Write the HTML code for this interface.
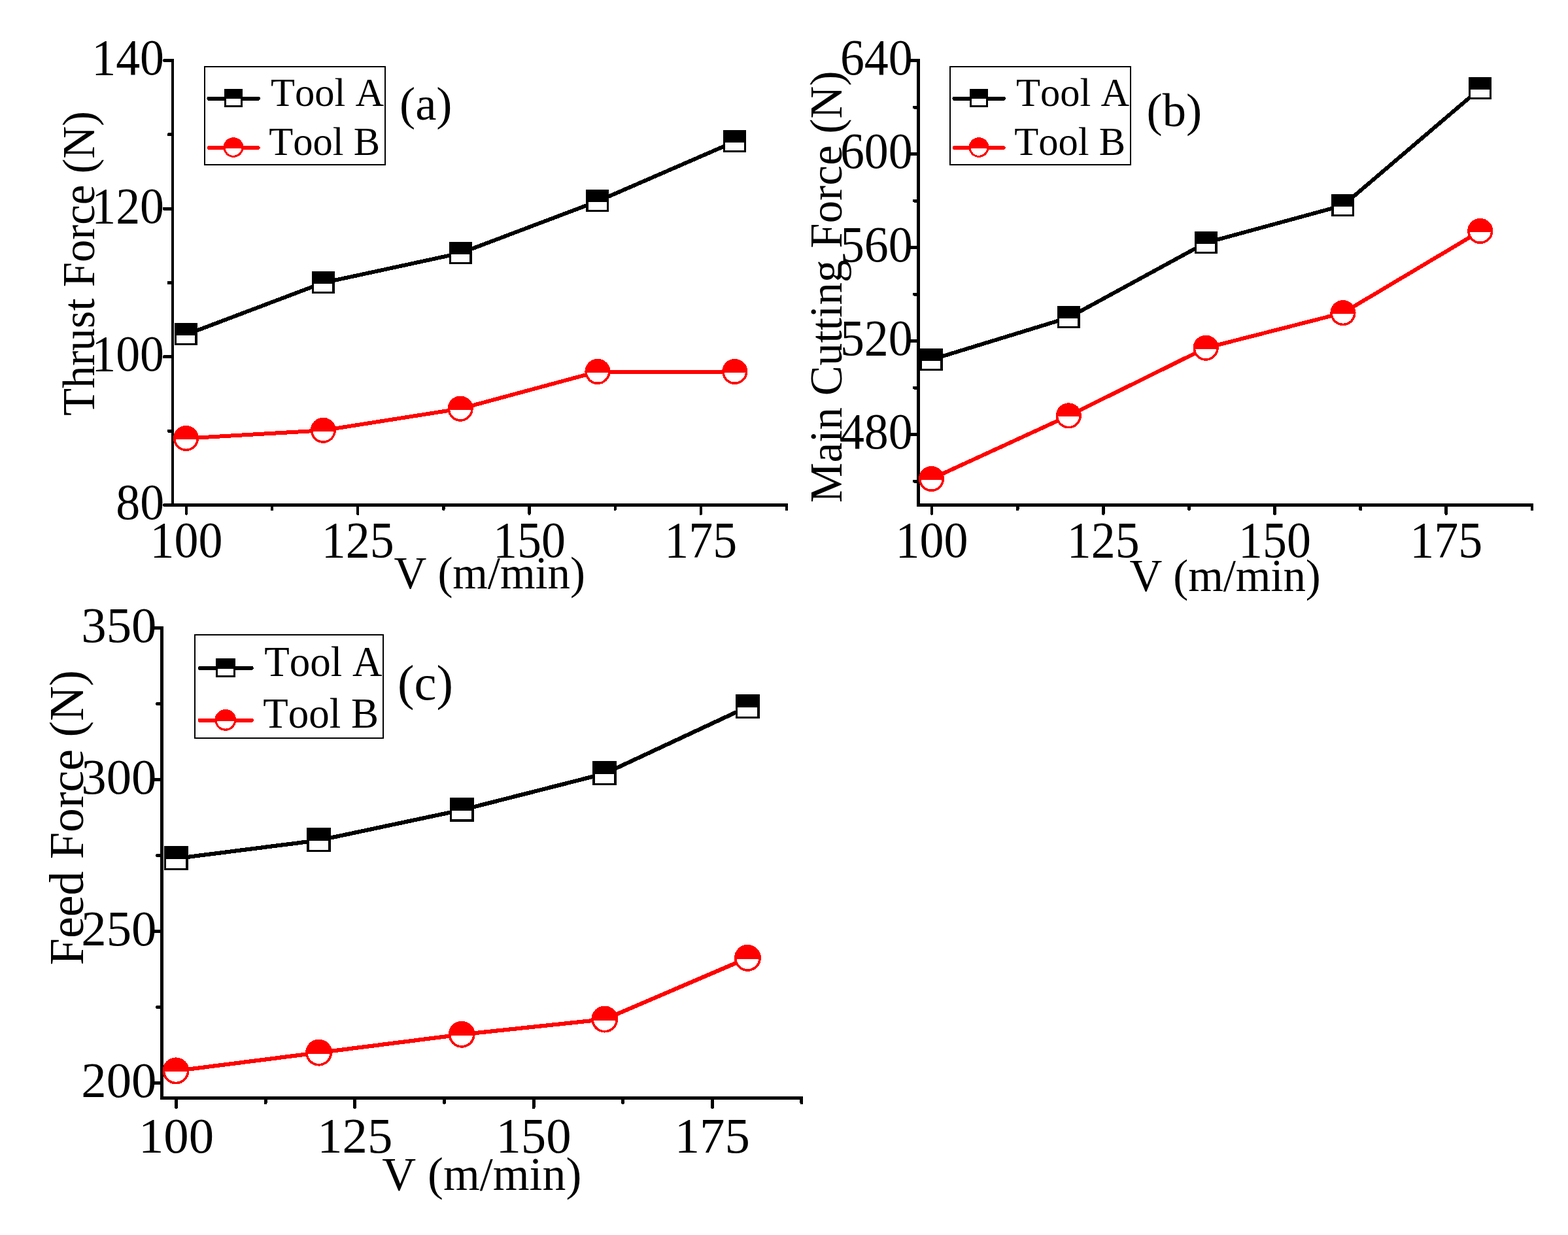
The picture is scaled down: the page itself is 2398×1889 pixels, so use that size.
<!DOCTYPE html>
<html lang="en">
<head>
<meta charset="utf-8">
<title>Cutting forces versus cutting speed</title>
<style>
html,body{margin:0;padding:0;background:#fff;}
body{width:2398px;height:1889px;overflow:hidden;}
svg{display:block;}
svg text{font-family:'Liberation Serif', serif;white-space:pre;font-kerning:none;font-variant-ligatures:none;}
</style>
</head>
<body>
<svg width="2398" height="1889" viewBox="0 0 2398 1889" role="img" aria-label="Cutting force components versus cutting speed for Tool A and Tool B">
<rect x="0" y="0" width="2398" height="1889" fill="#fff"/>
<g shape-rendering="crispEdges">
<polyline points="284.50,511.83 494.32,432.50 704.14,387.17 913.96,307.83 1123.78,216.60" fill="none" stroke="#000" stroke-width="6.00" stroke-linejoin="round"/>
<polyline points="284.50,670.50 494.32,658.26 704.14,625.17 913.96,568.50 1123.78,568.50" fill="none" stroke="#f00" stroke-width="6.00" stroke-linejoin="round"/>
<line x1="264.00" y1="90.00" x2="264.00" y2="775.00" stroke="#000" stroke-width="4.20" stroke-linecap="butt"/>
<line x1="261.90" y1="772.50" x2="1205.06" y2="772.50" stroke="#000" stroke-width="5.00" stroke-linecap="butt"/>
<line x1="251.40" y1="772.50" x2="264.00" y2="772.50" stroke="#000" stroke-width="5.00" stroke-linecap="round"/>
<line x1="251.40" y1="545.83" x2="264.00" y2="545.83" stroke="#000" stroke-width="5.00" stroke-linecap="round"/>
<line x1="251.40" y1="319.17" x2="264.00" y2="319.17" stroke="#000" stroke-width="5.00" stroke-linecap="round"/>
<line x1="251.40" y1="92.50" x2="264.00" y2="92.50" stroke="#000" stroke-width="5.00" stroke-linecap="round"/>
<line x1="258.10" y1="659.17" x2="264.00" y2="659.17" stroke="#000" stroke-width="5.00" stroke-linecap="round"/>
<line x1="258.10" y1="432.50" x2="264.00" y2="432.50" stroke="#000" stroke-width="5.00" stroke-linecap="round"/>
<line x1="258.10" y1="205.84" x2="264.00" y2="205.84" stroke="#000" stroke-width="5.00" stroke-linecap="round"/>
<line x1="285.00" y1="772.50" x2="285.00" y2="785.90" stroke="#000" stroke-width="4.20" stroke-linecap="round"/>
<line x1="547.27" y1="772.50" x2="547.27" y2="785.90" stroke="#000" stroke-width="4.20" stroke-linecap="round"/>
<line x1="809.55" y1="772.50" x2="809.55" y2="785.90" stroke="#000" stroke-width="4.20" stroke-linecap="round"/>
<line x1="1071.82" y1="772.50" x2="1071.82" y2="785.90" stroke="#000" stroke-width="4.20" stroke-linecap="round"/>
<line x1="416.14" y1="772.50" x2="416.14" y2="779.20" stroke="#000" stroke-width="4.20" stroke-linecap="round"/>
<line x1="678.41" y1="772.50" x2="678.41" y2="779.20" stroke="#000" stroke-width="4.20" stroke-linecap="round"/>
<line x1="940.69" y1="772.50" x2="940.69" y2="779.20" stroke="#000" stroke-width="4.20" stroke-linecap="round"/>
<line x1="1202.96" y1="772.50" x2="1202.96" y2="779.20" stroke="#000" stroke-width="4.20" stroke-linecap="round"/>
<rect x="267.00" y="494.33" width="35.00" height="34.00" fill="#000"/>
<rect x="270.20" y="513.33" width="28.10" height="11.90" fill="#fff"/>
<rect x="476.82" y="415.00" width="35.00" height="34.00" fill="#000"/>
<rect x="480.02" y="434.00" width="28.10" height="11.90" fill="#fff"/>
<rect x="686.64" y="369.67" width="35.00" height="34.00" fill="#000"/>
<rect x="689.84" y="388.67" width="28.10" height="11.90" fill="#fff"/>
<rect x="896.46" y="290.33" width="35.00" height="34.00" fill="#000"/>
<rect x="899.66" y="309.33" width="28.10" height="11.90" fill="#fff"/>
<rect x="1106.28" y="199.10" width="35.00" height="34.00" fill="#000"/>
<rect x="1109.48" y="218.10" width="28.10" height="11.90" fill="#fff"/>
<circle cx="284.50" cy="670.50" r="19.60" fill="#f00"/>
<path d="M268.57 672.00 A16.00 16.00 0 0 0 300.43 672.00 Z" fill="#fff"/>
<circle cx="494.32" cy="658.26" r="19.60" fill="#f00"/>
<path d="M478.39 659.76 A16.00 16.00 0 0 0 510.25 659.76 Z" fill="#fff"/>
<circle cx="704.14" cy="625.17" r="19.60" fill="#f00"/>
<path d="M688.21 626.67 A16.00 16.00 0 0 0 720.07 626.67 Z" fill="#fff"/>
<circle cx="913.96" cy="568.50" r="19.60" fill="#f00"/>
<path d="M898.03 570.00 A16.00 16.00 0 0 0 929.89 570.00 Z" fill="#fff"/>
<circle cx="1123.78" cy="568.50" r="19.60" fill="#f00"/>
<path d="M1107.85 570.00 A16.00 16.00 0 0 0 1139.71 570.00 Z" fill="#fff"/>
<text transform="translate(251.10 794.10) scale(0.9580 1)" font-size="77.20" text-anchor="end" fill="#000">80</text>
<text transform="translate(251.10 567.43) scale(0.9580 1)" font-size="77.20" text-anchor="end" fill="#000">100</text>
<text transform="translate(251.10 340.77) scale(0.9580 1)" font-size="77.20" text-anchor="end" fill="#000">120</text>
<text transform="translate(251.10 114.10) scale(0.9580 1)" font-size="77.20" text-anchor="end" fill="#000">140</text>
<text transform="translate(285.00 851.80) scale(0.9580 1)" font-size="77.20" text-anchor="middle" fill="#000">100</text>
<text transform="translate(547.27 851.80) scale(0.9580 1)" font-size="77.20" text-anchor="middle" fill="#000">125</text>
<text transform="translate(809.55 851.80) scale(0.9580 1)" font-size="77.20" text-anchor="middle" fill="#000">150</text>
<text transform="translate(1071.82 851.80) scale(0.9580 1)" font-size="77.20" text-anchor="middle" fill="#000">175</text>
<text transform="translate(602.50 900.30)" font-size="69.00" text-anchor="start" fill="#000" letter-spacing="-0.10">V (m/min)</text>
<text transform="translate(143.60 636.00) rotate(-90)" font-size="69.00" text-anchor="start" fill="#000" letter-spacing="-0.10">Thrust Force (N)</text>
<text transform="translate(611.00 182.50)" font-size="72.50" text-anchor="start" fill="#000">(a)</text>
<rect x="312.70" y="102.10" width="276.20" height="149.50" fill="#fff" stroke="#000" stroke-width="2.00"/>
<line x1="319.30" y1="150.80" x2="394.90" y2="150.80" stroke="#000" stroke-width="5.70" stroke-linecap="round"/>
<line x1="319.30" y1="226.00" x2="394.90" y2="226.00" stroke="#f00" stroke-width="5.70" stroke-linecap="round"/>
<rect x="343.10" y="136.20" width="27.80" height="27.60" fill="#000"/>
<rect x="345.70" y="151.30" width="22.20" height="9.98" fill="#fff"/>
<circle cx="357.00" cy="225.50" r="15.40" fill="#f00"/>
<path d="M344.69 227.00 A12.40 12.40 0 0 0 369.31 227.00 Z" fill="#fff"/>
<text transform="translate(414.00 161.80) scale(0.9770 1)" font-size="62.00" text-anchor="start" fill="#000">Tool A</text>
<text transform="translate(411.30 237.30) scale(0.9770 1)" font-size="62.00" text-anchor="start" fill="#000">Tool B</text>
</g>
<g shape-rendering="crispEdges">
<polyline points="1424.50,550.10 1634.32,485.75 1844.14,371.35 2053.96,314.15 2263.78,135.40" fill="none" stroke="#000" stroke-width="6.00" stroke-linejoin="round"/>
<polyline points="1424.50,732.43 1634.32,635.90 1844.14,532.23 2053.96,478.60 2263.78,353.48" fill="none" stroke="#f00" stroke-width="6.00" stroke-linejoin="round"/>
<line x1="1404.50" y1="90.00" x2="1404.50" y2="775.00" stroke="#000" stroke-width="4.80" stroke-linecap="butt"/>
<line x1="1402.10" y1="772.50" x2="2345.36" y2="772.50" stroke="#000" stroke-width="5.00" stroke-linecap="butt"/>
<line x1="1391.60" y1="664.50" x2="1404.50" y2="664.50" stroke="#000" stroke-width="5.00" stroke-linecap="round"/>
<line x1="1391.60" y1="521.50" x2="1404.50" y2="521.50" stroke="#000" stroke-width="5.00" stroke-linecap="round"/>
<line x1="1391.60" y1="378.50" x2="1404.50" y2="378.50" stroke="#000" stroke-width="5.00" stroke-linecap="round"/>
<line x1="1391.60" y1="235.50" x2="1404.50" y2="235.50" stroke="#000" stroke-width="5.00" stroke-linecap="round"/>
<line x1="1391.60" y1="92.50" x2="1404.50" y2="92.50" stroke="#000" stroke-width="5.00" stroke-linecap="round"/>
<line x1="1398.30" y1="736.00" x2="1404.50" y2="736.00" stroke="#000" stroke-width="5.00" stroke-linecap="round"/>
<line x1="1398.30" y1="593.00" x2="1404.50" y2="593.00" stroke="#000" stroke-width="5.00" stroke-linecap="round"/>
<line x1="1398.30" y1="450.00" x2="1404.50" y2="450.00" stroke="#000" stroke-width="5.00" stroke-linecap="round"/>
<line x1="1398.30" y1="307.00" x2="1404.50" y2="307.00" stroke="#000" stroke-width="5.00" stroke-linecap="round"/>
<line x1="1398.30" y1="164.00" x2="1404.50" y2="164.00" stroke="#000" stroke-width="5.00" stroke-linecap="round"/>
<line x1="1425.00" y1="772.50" x2="1425.00" y2="785.60" stroke="#000" stroke-width="4.80" stroke-linecap="round"/>
<line x1="1687.28" y1="772.50" x2="1687.28" y2="785.60" stroke="#000" stroke-width="4.80" stroke-linecap="round"/>
<line x1="1949.55" y1="772.50" x2="1949.55" y2="785.60" stroke="#000" stroke-width="4.80" stroke-linecap="round"/>
<line x1="2211.82" y1="772.50" x2="2211.82" y2="785.60" stroke="#000" stroke-width="4.80" stroke-linecap="round"/>
<line x1="1556.14" y1="772.50" x2="1556.14" y2="778.90" stroke="#000" stroke-width="4.80" stroke-linecap="round"/>
<line x1="1818.41" y1="772.50" x2="1818.41" y2="778.90" stroke="#000" stroke-width="4.80" stroke-linecap="round"/>
<line x1="2080.69" y1="772.50" x2="2080.69" y2="778.90" stroke="#000" stroke-width="4.80" stroke-linecap="round"/>
<line x1="2342.96" y1="772.50" x2="2342.96" y2="778.90" stroke="#000" stroke-width="4.80" stroke-linecap="round"/>
<rect x="1407.00" y="532.60" width="35.00" height="34.00" fill="#000"/>
<rect x="1410.20" y="551.60" width="28.10" height="11.90" fill="#fff"/>
<rect x="1616.82" y="468.25" width="35.00" height="34.00" fill="#000"/>
<rect x="1620.02" y="487.25" width="28.10" height="11.90" fill="#fff"/>
<rect x="1826.64" y="353.85" width="35.00" height="34.00" fill="#000"/>
<rect x="1829.84" y="372.85" width="28.10" height="11.90" fill="#fff"/>
<rect x="2036.46" y="296.65" width="35.00" height="34.00" fill="#000"/>
<rect x="2039.66" y="315.65" width="28.10" height="11.90" fill="#fff"/>
<rect x="2246.28" y="117.90" width="35.00" height="34.00" fill="#000"/>
<rect x="2249.48" y="136.90" width="28.10" height="11.90" fill="#fff"/>
<circle cx="1424.50" cy="732.43" r="19.60" fill="#f00"/>
<path d="M1408.57 733.93 A16.00 16.00 0 0 0 1440.43 733.93 Z" fill="#fff"/>
<circle cx="1634.32" cy="635.90" r="19.60" fill="#f00"/>
<path d="M1618.39 637.40 A16.00 16.00 0 0 0 1650.25 637.40 Z" fill="#fff"/>
<circle cx="1844.14" cy="532.23" r="19.60" fill="#f00"/>
<path d="M1828.21 533.73 A16.00 16.00 0 0 0 1860.07 533.73 Z" fill="#fff"/>
<circle cx="2053.96" cy="478.60" r="19.60" fill="#f00"/>
<path d="M2038.03 480.10 A16.00 16.00 0 0 0 2069.89 480.10 Z" fill="#fff"/>
<circle cx="2263.78" cy="353.48" r="19.60" fill="#f00"/>
<path d="M2247.85 354.98 A16.00 16.00 0 0 0 2279.71 354.98 Z" fill="#fff"/>
<text transform="translate(1395.80 686.10) scale(0.9580 1)" font-size="77.20" text-anchor="end" fill="#000">480</text>
<text transform="translate(1395.80 543.10) scale(0.9580 1)" font-size="77.20" text-anchor="end" fill="#000">520</text>
<text transform="translate(1395.80 400.10) scale(0.9580 1)" font-size="77.20" text-anchor="end" fill="#000">560</text>
<text transform="translate(1395.80 257.10) scale(0.9580 1)" font-size="77.20" text-anchor="end" fill="#000">600</text>
<text transform="translate(1395.80 114.10) scale(0.9580 1)" font-size="77.20" text-anchor="end" fill="#000">640</text>
<text transform="translate(1425.00 851.80) scale(0.9580 1)" font-size="77.20" text-anchor="middle" fill="#000">100</text>
<text transform="translate(1687.28 851.80) scale(0.9580 1)" font-size="77.20" text-anchor="middle" fill="#000">125</text>
<text transform="translate(1949.55 851.80) scale(0.9580 1)" font-size="77.20" text-anchor="middle" fill="#000">150</text>
<text transform="translate(2211.82 851.80) scale(0.9580 1)" font-size="77.20" text-anchor="middle" fill="#000">175</text>
<text transform="translate(1727.40 903.50)" font-size="69.00" text-anchor="start" fill="#000" letter-spacing="-0.10">V (m/min)</text>
<text transform="translate(1286.80 769.00) rotate(-90)" font-size="69.00" text-anchor="start" fill="#000" letter-spacing="0.15">Main Cutting Force (N)</text>
<text transform="translate(1753.60 193.00)" font-size="72.50" text-anchor="start" fill="#000">(b)</text>
<rect x="1452.70" y="102.10" width="276.20" height="149.50" fill="#fff" stroke="#000" stroke-width="2.00"/>
<line x1="1459.30" y1="150.80" x2="1534.90" y2="150.80" stroke="#000" stroke-width="5.70" stroke-linecap="round"/>
<line x1="1459.30" y1="226.00" x2="1534.90" y2="226.00" stroke="#f00" stroke-width="5.70" stroke-linecap="round"/>
<rect x="1483.10" y="136.20" width="27.80" height="27.60" fill="#000"/>
<rect x="1485.70" y="151.30" width="22.20" height="9.98" fill="#fff"/>
<circle cx="1497.00" cy="225.50" r="15.40" fill="#f00"/>
<path d="M1484.69 227.00 A12.40 12.40 0 0 0 1509.31 227.00 Z" fill="#fff"/>
<text transform="translate(1554.00 161.80) scale(0.9770 1)" font-size="62.00" text-anchor="start" fill="#000">Tool A</text>
<text transform="translate(1551.30 237.30) scale(0.9770 1)" font-size="62.00" text-anchor="start" fill="#000">Tool B</text>
</g>
<g shape-rendering="crispEdges">
<polyline points="269.00,1313.14 487.60,1285.30 706.20,1238.90 924.80,1183.22 1143.40,1081.14" fill="none" stroke="#000" stroke-width="6.20" stroke-linejoin="round"/>
<polyline points="269.00,1637.94 487.60,1610.10 706.20,1582.26 924.80,1559.06 1143.40,1465.33" fill="none" stroke="#f00" stroke-width="6.20" stroke-linejoin="round"/>
<line x1="247.50" y1="958.00" x2="247.50" y2="1682.00" stroke="#000" stroke-width="5.00" stroke-linecap="butt"/>
<line x1="245.00" y1="1679.50" x2="1228.38" y2="1679.50" stroke="#000" stroke-width="5.00" stroke-linecap="butt"/>
<line x1="233.50" y1="1656.50" x2="247.50" y2="1656.50" stroke="#000" stroke-width="5.00" stroke-linecap="round"/>
<line x1="233.50" y1="1424.50" x2="247.50" y2="1424.50" stroke="#000" stroke-width="5.00" stroke-linecap="round"/>
<line x1="233.50" y1="1192.50" x2="247.50" y2="1192.50" stroke="#000" stroke-width="5.00" stroke-linecap="round"/>
<line x1="233.50" y1="960.50" x2="247.50" y2="960.50" stroke="#000" stroke-width="5.00" stroke-linecap="round"/>
<line x1="240.50" y1="1540.50" x2="247.50" y2="1540.50" stroke="#000" stroke-width="5.00" stroke-linecap="round"/>
<line x1="240.50" y1="1308.50" x2="247.50" y2="1308.50" stroke="#000" stroke-width="5.00" stroke-linecap="round"/>
<line x1="240.50" y1="1076.50" x2="247.50" y2="1076.50" stroke="#000" stroke-width="5.00" stroke-linecap="round"/>
<line x1="269.50" y1="1679.50" x2="269.50" y2="1693.50" stroke="#000" stroke-width="5.00" stroke-linecap="round"/>
<line x1="542.75" y1="1679.50" x2="542.75" y2="1693.50" stroke="#000" stroke-width="5.00" stroke-linecap="round"/>
<line x1="816.00" y1="1679.50" x2="816.00" y2="1693.50" stroke="#000" stroke-width="5.00" stroke-linecap="round"/>
<line x1="1089.25" y1="1679.50" x2="1089.25" y2="1693.50" stroke="#000" stroke-width="5.00" stroke-linecap="round"/>
<line x1="406.12" y1="1679.50" x2="406.12" y2="1686.50" stroke="#000" stroke-width="5.00" stroke-linecap="round"/>
<line x1="679.38" y1="1679.50" x2="679.38" y2="1686.50" stroke="#000" stroke-width="5.00" stroke-linecap="round"/>
<line x1="952.62" y1="1679.50" x2="952.62" y2="1686.50" stroke="#000" stroke-width="5.00" stroke-linecap="round"/>
<line x1="1225.88" y1="1679.50" x2="1225.88" y2="1686.50" stroke="#000" stroke-width="5.00" stroke-linecap="round"/>
<rect x="250.50" y="1294.14" width="37.00" height="36.70" fill="#000"/>
<rect x="253.90" y="1314.14" width="29.70" height="13.40" fill="#fff"/>
<rect x="469.10" y="1266.30" width="37.00" height="36.70" fill="#000"/>
<rect x="472.50" y="1286.30" width="29.70" height="13.40" fill="#fff"/>
<rect x="687.70" y="1219.90" width="37.00" height="36.70" fill="#000"/>
<rect x="691.10" y="1239.90" width="29.70" height="13.40" fill="#fff"/>
<rect x="906.30" y="1164.22" width="37.00" height="36.70" fill="#000"/>
<rect x="909.70" y="1184.22" width="29.70" height="13.40" fill="#fff"/>
<rect x="1124.90" y="1062.14" width="37.00" height="36.70" fill="#000"/>
<rect x="1128.30" y="1082.14" width="29.70" height="13.40" fill="#fff"/>
<circle cx="269.00" cy="1637.94" r="20.50" fill="#f00"/>
<path d="M252.27 1639.44 A16.80 16.80 0 0 0 285.73 1639.44 Z" fill="#fff"/>
<circle cx="487.60" cy="1610.10" r="20.50" fill="#f00"/>
<path d="M470.87 1611.60 A16.80 16.80 0 0 0 504.33 1611.60 Z" fill="#fff"/>
<circle cx="706.20" cy="1582.26" r="20.50" fill="#f00"/>
<path d="M689.47 1583.76 A16.80 16.80 0 0 0 722.93 1583.76 Z" fill="#fff"/>
<circle cx="924.80" cy="1559.06" r="20.50" fill="#f00"/>
<path d="M908.07 1560.56 A16.80 16.80 0 0 0 941.53 1560.56 Z" fill="#fff"/>
<circle cx="1143.40" cy="1465.33" r="20.50" fill="#f00"/>
<path d="M1126.67 1466.83 A16.80 16.80 0 0 0 1160.13 1466.83 Z" fill="#fff"/>
<text transform="translate(239.50 1678.00)" font-size="76.80" text-anchor="end" fill="#000">200</text>
<text transform="translate(239.50 1446.00)" font-size="76.80" text-anchor="end" fill="#000">250</text>
<text transform="translate(239.50 1214.00)" font-size="76.80" text-anchor="end" fill="#000">300</text>
<text transform="translate(239.50 982.00)" font-size="76.80" text-anchor="end" fill="#000">350</text>
<text transform="translate(269.50 1762.60)" font-size="76.80" text-anchor="middle" fill="#000">100</text>
<text transform="translate(542.75 1762.60)" font-size="76.80" text-anchor="middle" fill="#000">125</text>
<text transform="translate(816.00 1762.60)" font-size="76.80" text-anchor="middle" fill="#000">150</text>
<text transform="translate(1089.25 1762.60)" font-size="76.80" text-anchor="middle" fill="#000">175</text>
<text transform="translate(584.20 1820.00)" font-size="71.80" text-anchor="start" fill="#000">V (m/min)</text>
<text transform="translate(127.00 1476.20) rotate(-90)" font-size="73.90" text-anchor="start" fill="#000">Feed Force (N)</text>
<text transform="translate(608.00 1069.60)" font-size="76.50" text-anchor="start" fill="#000">(c)</text>
<rect x="298.30" y="971.20" width="287.50" height="157.60" fill="#fff" stroke="#000" stroke-width="2.00"/>
<line x1="305.40" y1="1021.90" x2="384.90" y2="1021.90" stroke="#000" stroke-width="5.70" stroke-linecap="round"/>
<line x1="305.40" y1="1101.80" x2="384.90" y2="1101.80" stroke="#f00" stroke-width="5.70" stroke-linecap="round"/>
<rect x="329.90" y="1006.70" width="29.80" height="29.40" fill="#000"/>
<rect x="332.70" y="1022.80" width="23.80" height="10.58" fill="#fff"/>
<circle cx="344.80" cy="1101.40" r="16.40" fill="#f00"/>
<path d="M331.69 1102.90 A13.20 13.20 0 0 0 357.91 1102.90 Z" fill="#fff"/>
<text transform="translate(404.20 1034.00) scale(0.9770 1)" font-size="64.50" text-anchor="start" fill="#000">Tool A</text>
<text transform="translate(402.30 1112.90) scale(0.9770 1)" font-size="64.50" text-anchor="start" fill="#000">Tool B</text>
</g>
</svg>
</body>
</html>
